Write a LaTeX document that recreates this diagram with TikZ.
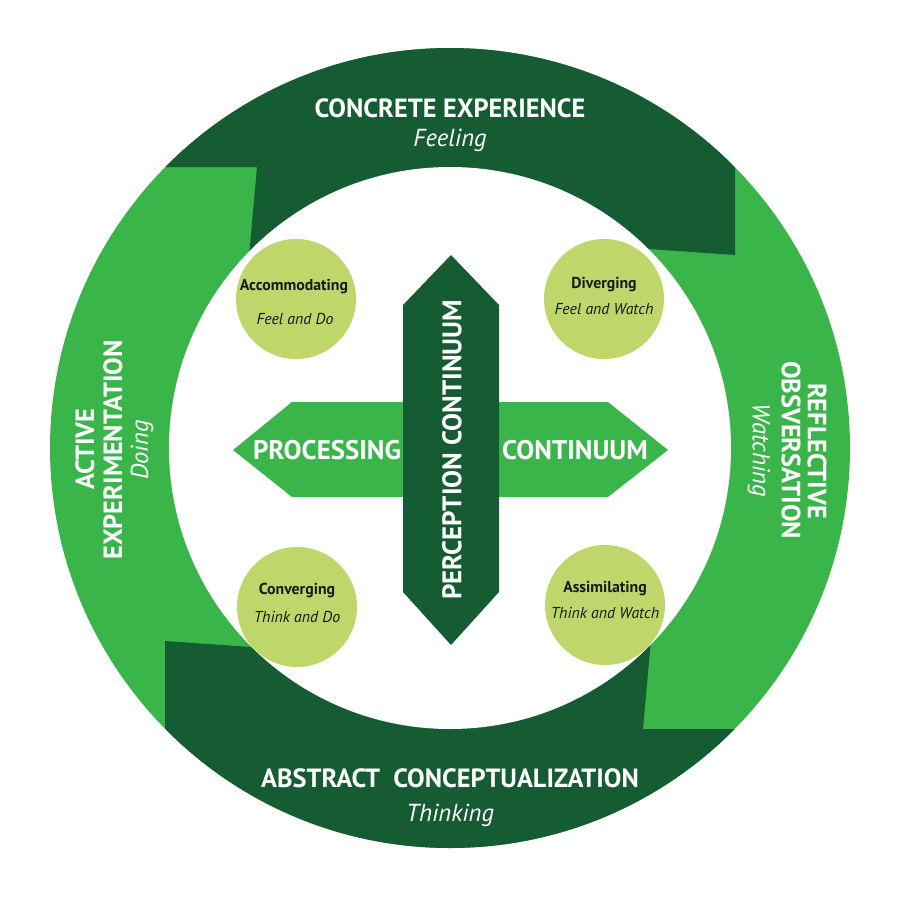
\documentclass[tikz,border=0pt]{standalone}
\usepackage{fontspec}
\setmainfont{PT Sans}
\usepackage{tikz}

\definecolor{darkgreen}{HTML}{155C33}
\definecolor{midgreen}{HTML}{3AB54A}
\definecolor{palegreen}{HTML}{BFD76A}

\begin{document}
\begin{tikzpicture}[x=0.02cm,y=-0.02cm]
  \tikzstyle{ringcap}=[text=white,font=\bfseries\fontsize{15}{17}\selectfont,inner sep=0pt]
  \tikzstyle{ringsub}=[text=white,font=\itshape\fontsize{14}{16}\selectfont,inner sep=0pt]
  \tikzstyle{axis}=[text=white,font=\bfseries\fontsize{15.3}{17}\selectfont,inner sep=0pt]
  \tikzstyle{stylename}=[text=black!90,font=\bfseries\fontsize{9}{11}\selectfont,inner sep=0pt]
  \tikzstyle{stylesub}=[text=black!90,font=\itshape\fontsize{9}{11}\selectfont,inner sep=0pt]
  \useasboundingbox (0,0) rectangle (900,900);
  \fill[midgreen] (450,448) circle (400);
  \begin{scope}
    \clip (450,448) circle (400);
    \foreach \a in {0,180}
      \fill[darkgreen,rotate around={\a:(450,448)}] (120,167) -- (257,167) -- (246,290)
        -- (450,448) -- (620,247) -- (735,255) -- (735,0) -- (120,0) -- cycle;
  \end{scope}
  \fill[white] (450,448) circle (281);
  % learning styles
  \foreach \x / \y / \n in {296/299/acc,604/299/div,297/607/con,605/605/ass}
    \fill[palegreen] (\x,\y) circle (60) coordinate (\n);
  \node[stylename] (acc1) at (294,287) {Accommodating};
  \node[stylesub] (acc2) at (295,319) {Feel and Do};
  \node[stylename] (div1) at (604,285) {Diverging};
  \node[stylesub] (div2) at (604,309) {Feel and Watch};
  \node[stylename] (con1) at (297,591) {Converging};
  \node[stylesub] (con2) at (297,617) {Think and Do};
  \node[stylename] (ass1) at (605,589) {Assimilating};
  \node[stylesub] (ass2) at (605,613) {Think and Watch};
  % continua
  \fill[midgreen] (233,450) -- (292,402) -- (608,402) -- (668,450) -- (608,497) -- (292,497) -- cycle;
  \fill[darkgreen] (451,255) -- (499,305) -- (499,592) -- (451,645) -- (403,592) -- (403,305) -- cycle;
  \node[axis] (proc) at (327,450) {PROCESSING};
  \node[axis] (cont) at (575,450) {CONTINUUM};
  \node[axis,rotate=90] (perc) at (452,450) {PERCEPTION CONTINUUM};
  % stages
  \node[ringcap] (ce) at (450,108) {CONCRETE EXPERIENCE};
  \node[ringsub] (fe) at (450,140) {Feeling};
  \node[ringcap] (ac) at (450,778) {ABSTRACT\hspace{0.5em}CONCEPTUALIZATION};
  \node[ringsub] (th) at (450,815) {Thinking};
  \node[ringcap,rotate=90] (ae1) at (85,449) {ACTIVE};
  \node[ringcap,rotate=90] (ae2) at (113,450) {EXPERIMENTATION};
  \node[ringsub,rotate=90] (ae3) at (142,450) {Doing};
  \node[ringcap,rotate=-90] (ro1) at (817,451) {REFLECTIVE};
  \node[ringcap,rotate=-90] (ro2) at (791,450) {OBSVERSATION};
  \node[ringsub,rotate=-90] (ro3) at (759,450) {Watching};
\end{tikzpicture}
\end{document}
